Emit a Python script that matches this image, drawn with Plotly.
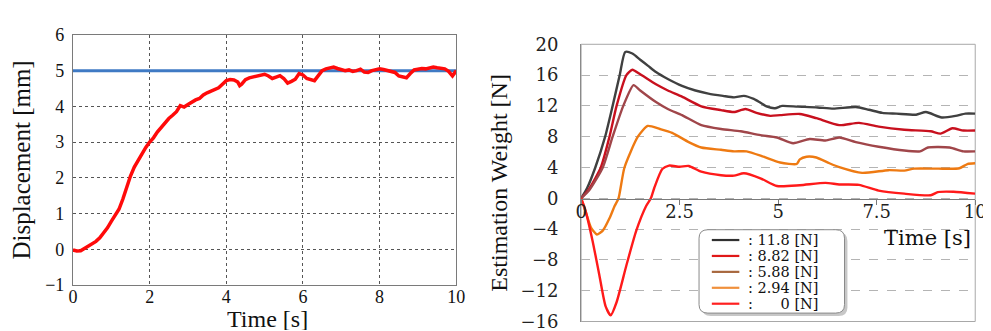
import plotly.graph_objects as go

W, H = 991, 331

# ---------------- Left chart data: displacement ----------------
disp_t = [0.0, 0.1, 0.2, 0.3, 0.4, 0.5, 0.6, 0.7, 0.8, 0.9, 1.0, 1.1, 1.2, 1.3, 1.4, 1.5,
          1.6, 1.7, 1.8, 1.9, 2.0, 2.1, 2.2, 2.3, 2.4, 2.5, 2.6, 2.7, 2.8, 2.9, 3.0, 3.1,
          3.2, 3.3, 3.4, 3.5, 3.6, 3.7, 3.8, 3.9, 4.0, 4.1, 4.2, 4.3, 4.35, 4.4, 4.5, 4.6,
          4.7, 4.8, 4.9, 5.0, 5.1, 5.2, 5.3, 5.4, 5.5, 5.6, 5.7, 5.8, 5.9, 6.0, 6.1, 6.2,
          6.3, 6.4, 6.5, 6.6, 6.7, 6.8, 6.9, 7.0, 7.1, 7.2, 7.3, 7.4, 7.5, 7.6, 7.7, 7.8,
          7.9, 8.0, 8.1, 8.2, 8.3, 8.4, 8.5, 8.6, 8.7, 8.8, 8.9, 9.0, 9.1, 9.2, 9.3, 9.4,
          9.5, 9.6, 9.7, 9.8, 9.9, 10.0]
disp_mm = [-0.02, -0.05, -0.04, 0.02, 0.08, 0.15, 0.22, 0.32, 0.45, 0.6, 0.78, 0.95, 1.12, 1.4,
           1.75, 2.05, 2.3, 2.5, 2.68, 2.85, 3.0, 3.12, 3.28, 3.4, 3.55, 3.66, 3.75, 3.85, 4.02,
           3.98, 4.05, 4.12, 4.18, 4.22, 4.32, 4.38, 4.42, 4.48, 4.52, 4.62, 4.72, 4.75, 4.74,
           4.68, 4.58, 4.62, 4.75, 4.8, 4.82, 4.85, 4.86, 4.9, 4.85, 4.78, 4.82, 4.86, 4.78,
           4.65, 4.7, 4.76, 4.92, 4.88, 4.78, 4.76, 4.72, 4.86, 5.0, 5.05, 5.08, 5.1, 5.06,
           5.03, 5.0, 5.02, 4.98, 5.0, 5.04, 4.96, 4.95, 5.0, 5.02, 5.05, 5.03, 5.0, 4.96,
           4.95, 4.85, 4.82, 4.8, 4.92, 5.02, 5.04, 5.06, 5.05, 5.08, 5.1, 5.08, 5.06, 5.05,
           4.98, 4.85, 5.0]
target_t = [0, 10]
target_mm = [5, 5]

left_xticks = [0, 2, 4, 6, 8, 10]
left_yticks = [-1, 0, 1, 2, 3, 4, 5, 6]

# ---------------- Right chart data: estimation weight ----------------
labels = [": 11.8 [N]", ": 8.82 [N]", ": 5.88 [N]", ": 2.94 [N]",
          ": \u2007\u2007\u20080 [N]"]
colors = ["#404040", "#c8101e", "#a0464a", "#ee7a12", "#ff1a1a"]
legend_colors = ["#303030", "#e01818", "#a8683e", "#f0903c", "#ff2020"]

w118_t = [0, 0.15, 0.36, 0.61, 0.8, 0.98, 1.12, 1.3, 1.5, 1.7, 1.9, 2.2, 2.56, 2.9, 3.23, 3.6,
          3.88, 4.13, 4.38, 4.55, 4.72, 4.92, 5.1, 5.5, 6.0, 6.4, 6.97, 7.3, 7.64, 8.0, 8.5,
          8.75, 9.15, 9.5, 9.75, 10]
w118_v = [0, 1.3, 4.0, 8.0, 12.0, 16.0, 19.0, 18.8, 18.0, 17.2, 16.4, 15.5, 14.6, 14.0, 13.6,
          13.3, 13.1, 13.3, 12.9, 12.4, 11.9, 11.7, 12.0, 11.9, 11.8, 11.65, 11.85, 11.5, 11.1,
          11.0, 10.85, 11.2, 10.5, 10.7, 11.0, 11.0]

w882_t = [0, 0.2, 0.5, 0.72, 0.9, 1.15, 1.3, 1.5, 1.9, 2.2, 2.56, 3.05, 3.55, 3.88, 4.17, 4.45,
          4.8, 5.05, 5.55, 5.97, 6.55, 7.05, 7.55, 8.2, 8.87, 9.12, 9.42, 9.7, 10]
w882_v = [0, 1.2, 4.0, 8.0, 12.0, 16.0, 16.7, 16.1, 14.8, 14.0, 13.2, 11.95, 11.45, 11.2, 11.6,
          11.1, 10.7, 10.8, 10.95, 10.4, 9.5, 9.8, 9.3, 8.9, 8.7, 8.4, 9.1, 8.8, 8.8]

w588_t = [0, 0.2, 0.55, 0.8, 1.07, 1.33, 1.5, 1.9, 2.2, 2.56, 3.05, 3.55, 4.05, 4.55, 4.97,
          5.38, 5.8, 6.2, 6.55, 6.97, 7.55, 8.2, 8.6, 8.8, 9.35, 9.7, 10]
w588_v = [0, 1.0, 4.0, 8.0, 12.0, 14.7, 14.0, 12.5, 11.6, 10.8, 9.5, 9.0, 8.7, 8.2, 7.9, 7.15,
          7.7, 7.5, 7.9, 7.3, 6.7, 6.2, 6.1, 6.6, 6.6, 6.1, 6.1]

w294_t = [0, 0.12, 0.25, 0.4, 0.55, 0.72, 0.85, 0.95, 1.1, 1.44, 1.69, 2.0, 2.31, 2.73, 3.05,
          3.55, 3.88, 4.2, 4.63, 5.05, 5.47, 5.55, 5.72, 5.97, 6.3, 6.55, 7.13, 7.8, 8.2, 8.45,
          9.05, 9.6, 9.8, 10]
w294_v = [0, -1.8, -3.8, -4.7, -4.2, -2.6, -1.0, 0.0, 4.0, 8.0, 9.4, 9.0, 8.5, 7.3, 6.6, 6.3,
          6.1, 6.1, 5.4, 4.65, 4.45, 5.05, 5.4, 5.3, 4.55, 4.05, 3.3, 3.65, 3.6, 3.85, 3.85,
          3.9, 4.45, 4.55]

w0_t = [0, 0.1, 0.29, 0.46, 0.62, 0.75, 0.9, 1.15, 1.4, 1.65, 1.77, 1.86, 2.06, 2.23, 2.5,
        2.73, 3.05, 3.55, 3.88, 4.13, 4.55, 4.97, 5.55, 6.2, 6.55, 7.05, 7.55, 8.2, 8.87,
        9.05, 9.45, 10]
w0_v = [0, -1.4, -5.5, -9.9, -14.0, -15.2, -13.5, -8.7, -4.2, -1.0, 0.0, 1.4, 3.8, 4.25, 4.1,
        4.2, 3.45, 3.0, 2.95, 3.25, 2.6, 1.6, 1.7, 2.0, 1.8, 1.75, 1.0, 0.6, 0.4, 0.8, 0.85, 0.6]

series_t = [w118_t, w882_t, w588_t, w294_t, w0_t]
series_v = [w118_v, w882_v, w588_v, w294_v, w0_v]

right_xticks = [0, 2.5, 5, 7.5, 10]
right_xticktext = ["0", "2.5", "5", "7.5", "10"]
right_yticks = [-16, -12, -8, -4, 0, 4, 8, 12, 16, 20]

# ---------------- Layout geometry (pixels) ----------------
L_LEFT, L_RIGHT, L_TOP, L_BOT = 60, 450, 17, 284
R_LEFT, R_RIGHT, R_TOP, R_BOT = 577, 978, 27, 323
R_ZERO_Y = 191.7


def px(x):
    return x / W


def py(y):
    return (H - y) / H


fig = go.Figure()

fig.add_trace(go.Scatter(x=target_t, y=target_mm, mode="lines",
                         line=dict(color="#3f7ac4", width=3), xaxis="x", yaxis="y",
                         showlegend=False, name="Target"))
fig.add_trace(go.Scatter(x=disp_t, y=disp_mm, mode="lines",
                         line=dict(color="#ff0a0a", width=3.5), xaxis="x", yaxis="y",
                         showlegend=False, name="Displacement"))

for t, v, c, lab in zip(series_t, series_v, colors, labels):
    fig.add_trace(go.Scatter(x=t, y=v, mode="lines",
                             line=dict(color=c, width=2.4, shape="spline", smoothing=0.6),
                             xaxis="x2", yaxis="y2", showlegend=False, name=lab))

serif = "Liberation Serif"
serif_wide = "DejaVu Serif"

shapes = []
annotations = []

# Right chart frame
shapes.append(dict(type="rect", xref="x2 domain", yref="y2 domain", x0=0, x1=1, y0=0, y1=1,
                   line=dict(color="#a8a8a8", width=1), layer="below"))


# Legend box (rounded with shadow)
def rounded_path(x0, y0, x1, y1, r):
    pts = []
    pts.append(f"M {px(x0 + r)} {py(y0)}")
    pts.append(f"L {px(x1 - r)} {py(y0)}")
    pts.append(f"Q {px(x1)} {py(y0)} {px(x1)} {py(y0 + r)}")
    pts.append(f"L {px(x1)} {py(y1 - r)}")
    pts.append(f"Q {px(x1)} {py(y1)} {px(x1 - r)} {py(y1)}")
    pts.append(f"L {px(x0 + r)} {py(y1)}")
    pts.append(f"Q {px(x0)} {py(y1)} {px(x0)} {py(y1 - r)}")
    pts.append(f"L {px(x0)} {py(y0 + r)}")
    pts.append(f"Q {px(x0)} {py(y0)} {px(x0 + r)} {py(y0)}")
    pts.append("Z")
    return " ".join(pts)


LB_X0, LB_Y0, LB_X1, LB_Y1 = 697, 225, 845, 314
shapes.append(dict(type="path", xref="paper", yref="paper",
                   path=rounded_path(LB_X0 + 3, LB_Y0 + 3, LB_X1 + 3, LB_Y1 + 3, 9),
                   fillcolor="rgba(0,0,0,0.22)", line=dict(width=0), layer="above"))
shapes.append(dict(type="path", xref="paper", yref="paper",
                   path=rounded_path(LB_X0, LB_Y0, LB_X1, LB_Y1, 9),
                   fillcolor="white", line=dict(color="#8a8a8a", width=1), layer="above"))

row0, row_step = 236.0, 17.0
for i, (lab, c) in enumerate(zip(labels, legend_colors)):
    yc = row0 + i * row_step
    shapes.append(dict(type="line", xref="paper", yref="paper",
                       x0=px(710), x1=px(738), y0=py(yc), y1=py(yc),
                       line=dict(color=c, width=2.2), layer="above"))
    annotations.append(dict(xref="paper", yref="paper", x=px(745), y=py(yc), text=lab,
                            showarrow=False, xanchor="left", yanchor="middle", height=16,
                            font=dict(family=serif_wide, size=14.5, color="#111")))

# Right x-axis title
annotations.append(dict(xref="paper", yref="paper", x=px(976), y=py(234), text="Time [s]",
                        showarrow=False, xanchor="right", yanchor="middle",
                        font=dict(family=serif_wide, size=21, color="#111")))
# Left x-axis title
annotations.append(dict(xref="paper", yref="paper", x=px(258), y=py(320), text="Time [s]",
                        showarrow=False, xanchor="center", yanchor="middle", height=22,
                        font=dict(family=serif, size=24, color="#111")))

fig.update_layout(
    width=W, height=H, margin=dict(l=0, r=0, t=0, b=0),
    paper_bgcolor="white", plot_bgcolor="white", showlegend=False,
    xaxis=dict(domain=[px(L_LEFT), px(L_RIGHT)], range=[0, 10], tickvals=left_xticks,
               showline=True, mirror=True, linecolor="#7a7a7a", linewidth=1,
               showgrid=True, gridcolor="#555", griddash="dot", gridwidth=1,
               zeroline=False, ticks="", ticklabelstandoff=-5,
               tickfont=dict(family=serif, size=18, color="#111")),
    yaxis=dict(domain=[py(L_BOT), py(L_TOP)], range=[-1, 6], tickvals=left_yticks,
               showline=True, mirror=True, linecolor="#7a7a7a", linewidth=1,
               showgrid=True, gridcolor="#555", griddash="dot", gridwidth=1,
               zeroline=False, ticks="", ticklabelstandoff=4,
               tickfont=dict(family=serif, size=18, color="#111"),
               title=dict(text="Displacement [mm]",
                          font=dict(family=serif, size=25, color="#111"), standoff=7)),
    xaxis2=dict(domain=[px(R_LEFT), px(R_RIGHT)], range=[0, 10], tickvals=right_xticks,
                ticktext=right_xticktext, anchor="free", position=py(R_ZERO_Y),
                showline=True, linecolor="#7a7a7a", linewidth=1, showgrid=False,
                zeroline=False, ticks="outside", ticklen=5, tickcolor="#7a7a7a",
                ticklabelstandoff=-8,
                tickfont=dict(family=serif_wide, size=18, color="#222")),
    yaxis2=dict(domain=[py(R_BOT), py(R_TOP)], range=[-16, 20], tickvals=right_yticks,
                anchor="x2", showline=True, linecolor="#8a8a8a", linewidth=1,
                showgrid=True, gridcolor="#b4b4b4", griddash="dash", gridwidth=1,
                zeroline=False, ticks="", ticklabelstandoff=18,
                tickfont=dict(family=serif_wide, size=18, color="#222"),
                title=dict(text="Estimation Weight [N]",
                           font=dict(family=serif, size=24, color="#111"), standoff=6)),
    shapes=shapes, annotations=annotations,
)

fig.write_html("out.html")
